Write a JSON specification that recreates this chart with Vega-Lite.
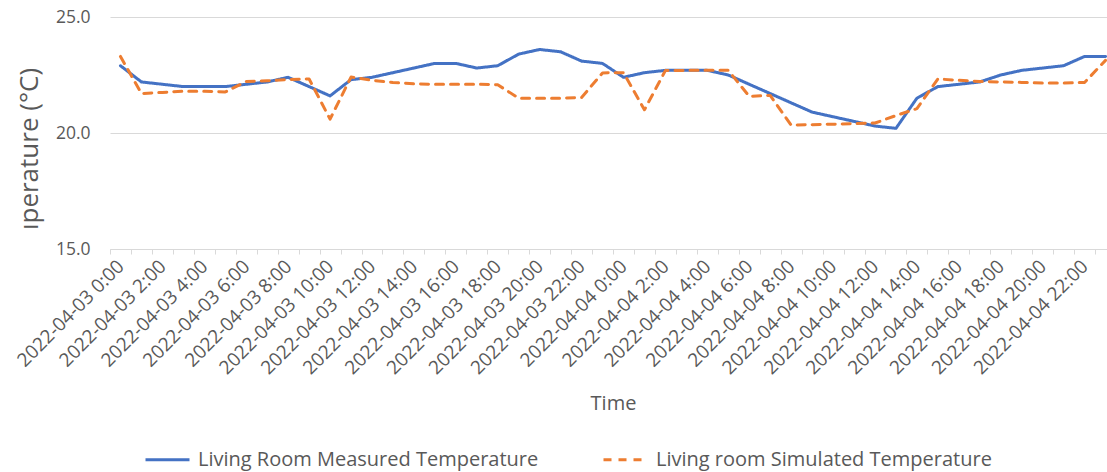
{
  "$schema": "https://vega.github.io/schema/vega-lite/v6.json",
  "autosize": {"type": "none"},
  "padding": {"left": 110, "top": 17, "right": 0, "bottom": 223},
  "width": 1006,
  "height": 232,
  "background": "white",
  "config": {
    "view": {"stroke": null},
    "font": "Open Sans"
  },
  "data": {
    "values": [
      {"time": "2022-04-03 0:00", "measured": 22.9, "simulated": 23.3},
      {"time": "2022-04-03 1:00", "measured": 22.2, "simulated": 21.7},
      {"time": "2022-04-03 2:00", "measured": 22.1, "simulated": 21.75},
      {"time": "2022-04-03 3:00", "measured": 22.0, "simulated": 21.8},
      {"time": "2022-04-03 4:00", "measured": 22.0, "simulated": 21.8},
      {"time": "2022-04-03 5:00", "measured": 22.0, "simulated": 21.77},
      {"time": "2022-04-03 6:00", "measured": 22.1, "simulated": 22.22},
      {"time": "2022-04-03 7:00", "measured": 22.2, "simulated": 22.25},
      {"time": "2022-04-03 8:00", "measured": 22.4, "simulated": 22.3},
      {"time": "2022-04-03 9:00", "measured": 22.0, "simulated": 22.33},
      {"time": "2022-04-03 10:00", "measured": 21.6, "simulated": 20.6},
      {"time": "2022-04-03 11:00", "measured": 22.3, "simulated": 22.41},
      {"time": "2022-04-03 12:00", "measured": 22.4, "simulated": 22.27},
      {"time": "2022-04-03 13:00", "measured": 22.6, "simulated": 22.18},
      {"time": "2022-04-03 14:00", "measured": 22.8, "simulated": 22.12},
      {"time": "2022-04-03 15:00", "measured": 23.0, "simulated": 22.1},
      {"time": "2022-04-03 16:00", "measured": 23.0, "simulated": 22.1},
      {"time": "2022-04-03 17:00", "measured": 22.8, "simulated": 22.1},
      {"time": "2022-04-03 18:00", "measured": 22.9, "simulated": 22.08},
      {"time": "2022-04-03 19:00", "measured": 23.4, "simulated": 21.5},
      {"time": "2022-04-03 20:00", "measured": 23.6, "simulated": 21.5},
      {"time": "2022-04-03 21:00", "measured": 23.5, "simulated": 21.5},
      {"time": "2022-04-03 22:00", "measured": 23.1, "simulated": 21.53},
      {"time": "2022-04-03 23:00", "measured": 23.0, "simulated": 22.59},
      {"time": "2022-04-04 0:00", "measured": 22.4, "simulated": 22.6},
      {"time": "2022-04-04 1:00", "measured": 22.6, "simulated": 21.0},
      {"time": "2022-04-04 2:00", "measured": 22.7, "simulated": 22.69},
      {"time": "2022-04-04 3:00", "measured": 22.7, "simulated": 22.7},
      {"time": "2022-04-04 4:00", "measured": 22.7, "simulated": 22.7},
      {"time": "2022-04-04 5:00", "measured": 22.5, "simulated": 22.7},
      {"time": "2022-04-04 6:00", "measured": 22.1, "simulated": 21.58},
      {"time": "2022-04-04 7:00", "measured": 21.7, "simulated": 21.62},
      {"time": "2022-04-04 8:00", "measured": 21.3, "simulated": 20.34},
      {"time": "2022-04-04 9:00", "measured": 20.9, "simulated": 20.36},
      {"time": "2022-04-04 10:00", "measured": 20.7, "simulated": 20.38},
      {"time": "2022-04-04 11:00", "measured": 20.5, "simulated": 20.4},
      {"time": "2022-04-04 12:00", "measured": 20.3, "simulated": 20.43},
      {"time": "2022-04-04 13:00", "measured": 20.2, "simulated": 20.75},
      {"time": "2022-04-04 14:00", "measured": 21.5, "simulated": 21.05},
      {"time": "2022-04-04 15:00", "measured": 22.0, "simulated": 22.33},
      {"time": "2022-04-04 16:00", "measured": 22.1, "simulated": 22.27},
      {"time": "2022-04-04 17:00", "measured": 22.2, "simulated": 22.22},
      {"time": "2022-04-04 18:00", "measured": 22.5, "simulated": 22.2},
      {"time": "2022-04-04 19:00", "measured": 22.7, "simulated": 22.18},
      {"time": "2022-04-04 20:00", "measured": 22.8, "simulated": 22.15},
      {"time": "2022-04-04 21:00", "measured": 22.9, "simulated": 22.15},
      {"time": "2022-04-04 22:00", "measured": 23.3, "simulated": 22.18},
      {"time": "2022-04-04 23:00", "measured": 23.3, "simulated": 23.13}
    ]
  },
  "transform": [
    {"fold": ["measured", "simulated"], "as": ["series", "temp"]}
  ],
  "mark": {"type": "line", "strokeWidth": 3, "strokeCap": "round", "strokeJoin": "round"},
  "encoding": {
    "x": {
      "field": "time",
      "type": "ordinal",
      "sort": null,
      "scale": {"type": "band", "paddingInner": 0, "paddingOuter": 0},
      "bandPosition": 0.5,
      "axis": {
        "title": "Time",
        "titleFontSize": 20,
        "titleFontWeight": "normal",
        "titleColor": "#595959",
        "titleBaseline": "alphabetic",
        "titleY": 160,
        "domainColor": "#D9D9D9",
        "domainWidth": 1,
        "tickColor": "#D9D9D9",
        "tickSize": 5,
        "tickBand": "extent",
        "grid": false,
        "labelAngle": -45,
        "labelAlign": "right",
        "labelBaseline": "middle",
        "labelPadding": 9,
        "labelFontSize": 19,
        "labelColor": "#595959",
        "labelOverlap": false,
        "labelBound": false,
        "labelExpr": "test(/ [0-9]*[02468]:00$/, datum.value) ? datum.value : ''"
      }
    },
    "y": {
      "field": "temp",
      "type": "quantitative",
      "scale": {"domain": [15, 25], "nice": false, "zero": false},
      "axis": {
        "values": [15, 20, 25],
        "format": ".1f",
        "domain": false,
        "ticks": false,
        "grid": true,
        "gridColor": "#D9D9D9",
        "gridWidth": 1,
        "labelPadding": 20,
        "labelFontSize": 17.5,
        "labelColor": "#595959",
        "title": "ıperature (°C)",
        "titleFontSize": 26,
        "titleFontWeight": "normal",
        "titleColor": "#595959",
        "titleAngle": -90,
        "titleAlign": "center",
        "titleBaseline": "alphabetic",
        "titleX": -73,
        "titleY": 131.5
      }
    },
    "color": {
      "field": "series",
      "type": "nominal",
      "scale": {"domain": ["measured", "simulated"], "range": ["#4472C4", "#ED7D31"]},
      "legend": {
        "title": null,
        "orient": "none",
        "legendX": 34,
        "legendY": 419,
        "direction": "horizontal",
        "padding": 0,
        "symbolType": "stroke",
        "symbolSize": 1936,
        "symbolStrokeWidth": 3,
        "labelFontSize": 20,
        "labelColor": "#595959",
        "labelOffset": 7,
        "columnPadding": 58,
        "labelLimit": 500,
        "labelExpr": "datum.value == 'measured' ? 'Living Room Measured Temperature' : 'Living room Simulated Temperature'"
      }
    },
    "strokeDash": {
      "field": "series",
      "type": "nominal",
      "scale": {"domain": ["measured", "simulated"], "range": [[1, 0], [8, 7]]},
      "legend": {
        "title": null,
        "orient": "none",
        "legendX": 34,
        "legendY": 419,
        "direction": "horizontal",
        "padding": 0,
        "symbolType": "stroke",
        "symbolSize": 1936,
        "symbolStrokeWidth": 3,
        "labelFontSize": 20,
        "labelColor": "#595959",
        "labelOffset": 7,
        "columnPadding": 58,
        "labelLimit": 500,
        "labelExpr": "datum.value == 'measured' ? 'Living Room Measured Temperature' : 'Living room Simulated Temperature'"
      }
    }
  }
}
